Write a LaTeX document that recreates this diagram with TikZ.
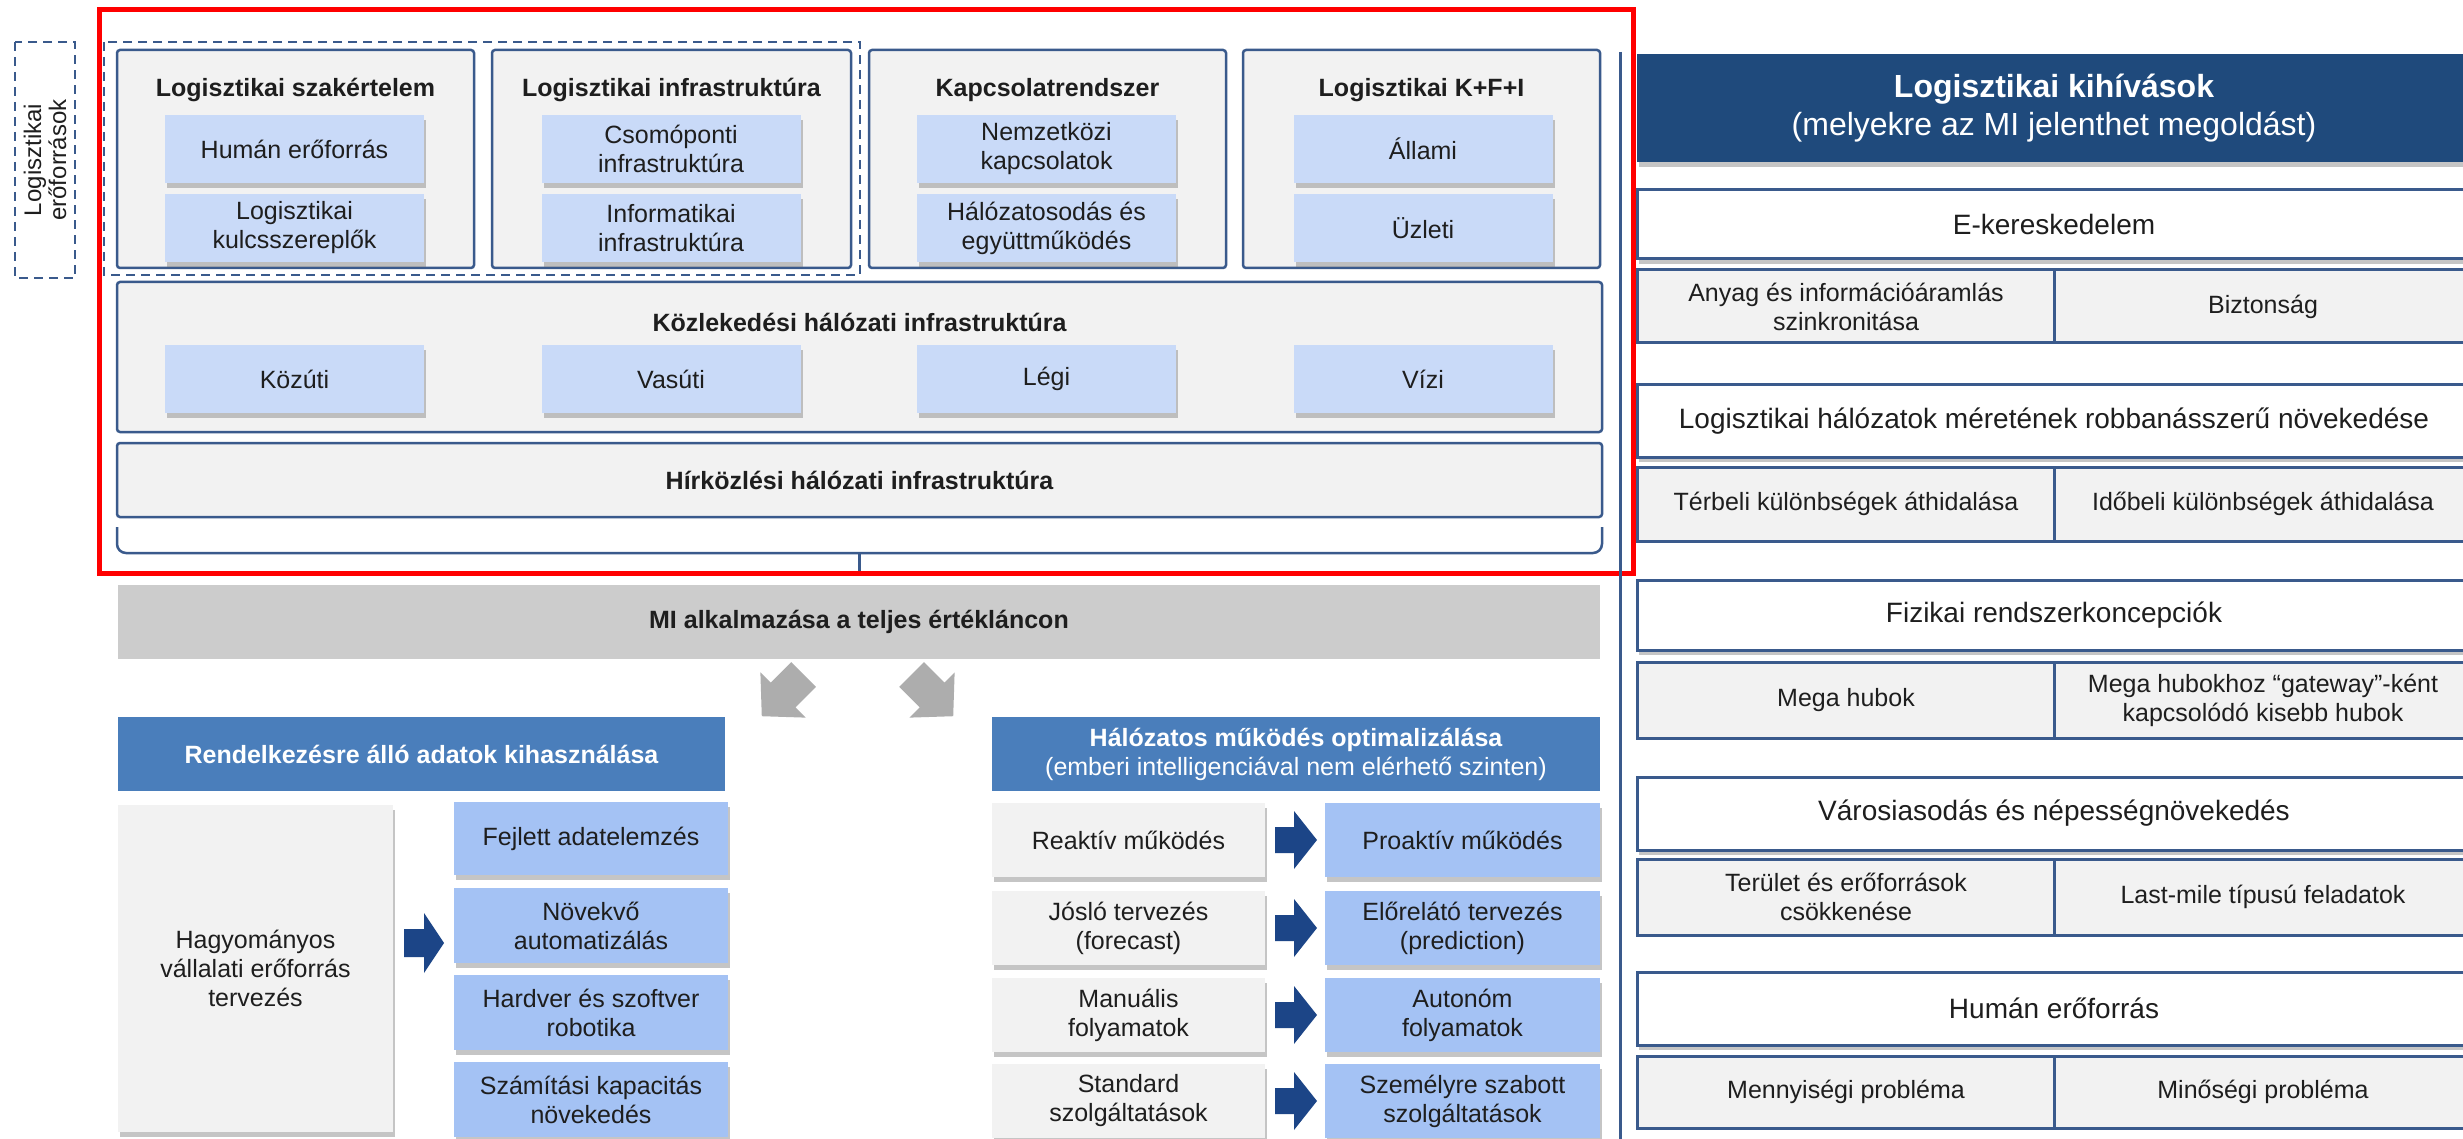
\documentclass[tikz,border=0pt]{standalone}
\usepackage{fontspec}
\setmainfont{Liberation Sans}
\usetikzlibrary{shadows}
\definecolor{bord}{HTML}{3A5A8C}
\definecolor{panel}{HTML}{F2F2F2}
\definecolor{subblue}{HTML}{C9DAF8}
\definecolor{lowblue}{HTML}{A4C2F4}
\definecolor{hdrdark}{HTML}{1F4A7C}
\definecolor{hdrmid}{HTML}{4A7EBB}
\definecolor{barg}{HTML}{CCCCCC}
\definecolor{arrg}{HTML}{ADADAD}
\definecolor{arrblue}{HTML}{1C4587}
\definecolor{txt}{HTML}{1E1E1E}
\tikzset{
  base/.style={inner sep=0pt, align=center, font=\fontsize{25}{29}\selectfont, text=txt},
  ttl/.style={base, font=\fontsize{25}{29}\selectfont\bfseries},
  grpbox/.style={base, draw=bord, line width=2.5pt, fill=panel, rounded corners=3pt},
  shd/.style={drop shadow={shadow xshift=2pt, shadow yshift=-5pt, fill=black!50, opacity=.45}},
  subbox/.style={base, fill=subblue, shd, minimum width=259pt, minimum height=68pt},
  lowbox/.style={base, fill=lowblue, shd},
  graybox/.style={base, fill=panel, shd},
  midhdr/.style={base, fill=hdrmid, text=white, minimum height=74pt},
  rhead/.style={base, font=\fontsize{28}{32}\selectfont, fill=white, draw=bord, line width=3pt, shd, minimum width=834pt},
  rrow/.style={base, fill=panel, draw=bord, line width=3pt, minimum width=417pt},
}
\begin{document}
\begin{tikzpicture}[x=1pt,y=-1pt]
\clip (0,0) rectangle (2463,1139);
\fill[white] (0,0) rectangle (2463,1139);
% ---- left dashed label
\draw[bord, line width=2pt, dash pattern=on 9pt off 6pt] (15,42) rectangle (75,278);
\node[base, rotate=90, font=\fontsize{24}{25}\selectfont] (lbl) at (45,160) {Logisztikai\\erőforrások};
% ---- dashed group
\draw[bord, line width=2pt, dash pattern=on 9pt off 6pt] (104,42) rectangle (860,275);
% ---- top group boxes
\node[grpbox, minimum width=357pt, minimum height=218pt] (g1) at (295.5,159) {};
\node[grpbox, minimum width=359pt, minimum height=218pt] (g2) at (671.5,159) {};
\node[grpbox, minimum width=357pt, minimum height=218pt] (g3) at (1047.5,159) {};
\node[grpbox, minimum width=357pt, minimum height=218pt] (g4) at (1421.5,159) {};
\node[ttl] (g1t) at (295.5,90) {Logisztikai szakértelem};
\node[ttl] (g2t) at (671.5,90) {Logisztikai infrastruktúra};
\node[ttl] (g3t) at (1047.5,90) {Kapcsolatrendszer};
\node[ttl] (g4t) at (1421.5,90) {Logisztikai K+F+I};
\node[subbox] (s11) at (294.5,149) {Humán erőforrás};
\node[subbox] (s12) at (294.5,228) {Logisztikai\\kulcsszereplők};
\node[subbox] (s21) at (671,149) {Csomóponti\\infrastruktúra};
\node[subbox] (s22) at (671,228) {Informatikai\\infrastruktúra};
\node[subbox] (s31) at (1046.5,149) {Nemzetközi\\kapcsolatok};
\node[subbox] (s32) at (1046.5,228) {Hálózatosodás és\\együttműködés};
\node[subbox] (s41) at (1423,149) {Állami};
\node[subbox] (s42) at (1423,228) {Üzleti};
% ---- transport
\node[grpbox, minimum width=1485pt, minimum height=150pt] (kh) at (859.5,357) {};
\node[ttl] (kht) at (859.5,322) {Közlekedési hálózati infrastruktúra};
\node[subbox] (k1) at (294.5,379) {Közúti};
\node[subbox] (k2) at (671,379) {Vasúti};
\node[subbox] (k3) at (1046.5,379) {Légi};
\node[subbox] (k4) at (1423,379) {Vízi};
% ---- telecom
\node[grpbox, ttl, minimum width=1485pt, minimum height=74pt] (hk) at (859.5,480) {Hírközlési hálózati infrastruktúra};
% ---- brace
\draw[bord, line width=2.5pt, rounded corners=9pt] (117,527) -- (117,553) -- (1602,553) -- (1602,527);
\coordinate (bm) at (859.5,553);
\coordinate (bt) at (859.5,573);
\draw[bord, line width=2.5pt] (bm) -- (bt);
% ---- red highlight
\draw[red, line width=5pt] (99,10) rectangle (1633,573);
% ---- separator
\draw[bord, line width=3pt] (1620,52) -- (1620,1145);
% ---- MI bar
\node[ttl, fill=barg, minimum width=1482pt, minimum height=74pt] (mi) at (859,622) {MI alkalmazása a teljes értékláncon};
% gray arrows
\fill[arrg, shift={(783,695)}, rotate=225] (-29,-17.5) -- (0,-17.5) -- (0,-32) -- (30,0) -- (0,32) -- (0,17.5) -- (-29,17.5) -- cycle;
\fill[arrg, shift={(932,695)}, rotate=-45] (-29,-17.5) -- (0,-17.5) -- (0,-32) -- (30,0) -- (0,32) -- (0,17.5) -- (-29,17.5) -- cycle;
% ---- left lower
\node[midhdr, font=\fontsize{25}{29}\selectfont\bfseries, minimum width=607pt] (h1) at (421.5,754) {Rendelkezésre álló adatok kihasználása};
\node[graybox, minimum width=275pt, minimum height=327pt] (hag) at (255.5,968.5) {Hagyományos\\vállalati erőforrás\\tervezés};
\node[lowbox, minimum width=274pt, minimum height=73pt] (f1) at (591,838.5) {Fejlett adatelemzés};
\node[lowbox, minimum width=274pt, minimum height=75pt] (f2) at (591,925.5) {Növekvő\\automatizálás};
\node[lowbox, minimum width=274pt, minimum height=75pt] (f3) at (591,1012.5) {Hardver és szoftver\\robotika};
\node[lowbox, minimum width=274pt, minimum height=75pt] (f4) at (591,1099.5) {Számítási kapacitás\\növekedés};
\fill[arrblue, shift={(424,943)}] (-20,-14) -- (0,-14) -- (0,-30) -- (20,0) -- (0,30) -- (0,14) -- (-20,14) -- cycle;
% ---- right lower
\node[midhdr, minimum width=608pt] (h2) at (1296,754) {{\bfseries Hálózatos működés optimalizálása}\\(emberi intelligenciával nem elérhető szinten)};
\node[graybox, minimum width=273pt, minimum height=74pt] (a1) at (1128.5,840) {Reaktív működés};
\node[graybox, minimum width=273pt, minimum height=74pt] (a2) at (1128.5,928) {Jósló tervezés\\(forecast)};
\node[graybox, minimum width=273pt, minimum height=74pt] (a3) at (1128.5,1015) {Manuális\\folyamatok};
\node[graybox, minimum width=273pt, minimum height=74pt] (a4) at (1128.5,1101) {Standard\\szolgáltatások};
\node[lowbox, minimum width=275pt, minimum height=74pt] (b1) at (1462.5,840) {Proaktív működés};
\node[lowbox, minimum width=275pt, minimum height=74pt] (b2) at (1462.5,928) {Előrelátó tervezés\\(prediction)};
\node[lowbox, minimum width=275pt, minimum height=74pt] (b3) at (1462.5,1015) {Autonóm\\folyamatok};
\node[lowbox, minimum width=275pt, minimum height=74pt] (b4) at (1462.5,1101) {Személyre szabott\\szolgáltatások};
\foreach \yy in {840,928,1015,1101}{
  \fill[arrblue, shift={(1294,\yy)}] (-19,-13) -- (0,-13) -- (0,-29) -- (23,0) -- (0,29) -- (0,13) -- (-19,13) -- cycle;
}
% ---- right panel
\node[base, fill=hdrdark, text=white, font=\fontsize{32}{38}\selectfont, minimum width=834pt, minimum height=108pt, shd] (rh) at (2054,108) {{\bfseries Logisztikai kihívások}\\(melyekre az MI jelenthet megoldást)};
\node[rhead, minimum height=69pt] (e1) at (2054,224.5) {E-kereskedelem};
\node[rrow, minimum height=73pt] (e1a) at (1846,306.5) {Anyag és információáramlás\\szinkronitása};
\node[rrow, minimum height=73pt] (e1b) at (2263,306.5) {Biztonság};
\node[rhead, minimum height=72pt] (e2) at (2054,421) {Logisztikai hálózatok méretének robbanásszerű növekedése};
\node[rrow, minimum height=74pt] (e2a) at (1846,504) {Térbeli különbségek áthidalása};
\node[rrow, minimum height=74pt] (e2b) at (2263,504) {Időbeli különbségek áthidalása};
\node[rhead, minimum height=70pt] (e3) at (2054,615) {Fizikai rendszerkoncepciók};
\node[rrow, minimum height=76pt] (e3a) at (1846,700) {Mega hubok};
\node[rrow, minimum height=76pt] (e3b) at (2263,700) {Mega hubokhoz “gateway”-ként\\kapcsolódó kisebb hubok};
\node[rhead, minimum height=73pt] (e4) at (2054,813.5) {Városiasodás és népességnövekedés};
\node[rrow, minimum height=76pt] (e4a) at (1846,897) {Terület és erőforrások\\csökkenése};
\node[rrow, minimum height=76pt] (e4b) at (2263,897) {Last-mile típusú feladatok};
\node[rhead, minimum height=73pt] (e5) at (2054,1008.5) {Humán erőforrás};
\node[rrow, minimum height=72pt] (e5a) at (1846,1092) {Mennyiségi probléma};
\node[rrow, minimum height=72pt] (e5b) at (2263,1092) {Minőségi probléma};
\end{tikzpicture}
\end{document}
